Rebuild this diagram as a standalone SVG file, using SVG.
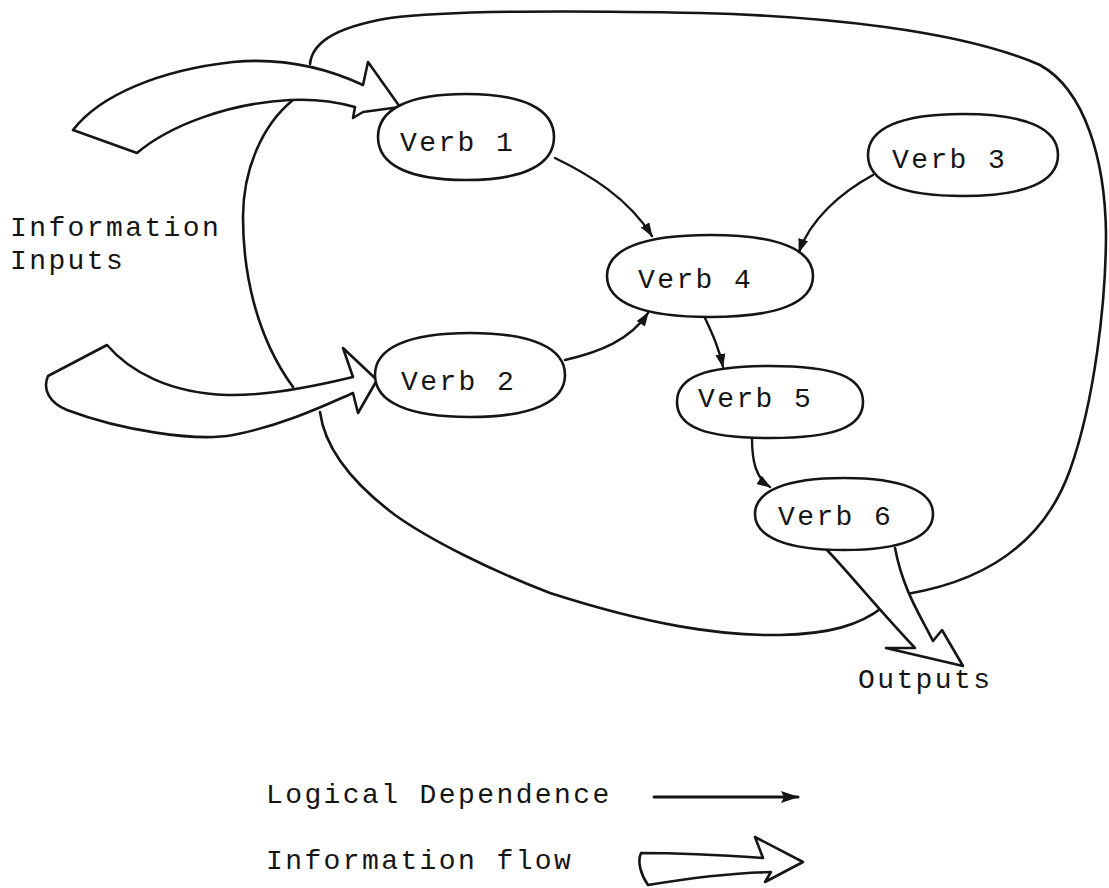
<svg xmlns="http://www.w3.org/2000/svg" width="1109" height="888" viewBox="0 0 1109 888">
  <style>
    .ink { fill: none; stroke: #151515; stroke-width: 2.6; stroke-linecap: round; stroke-linejoin: round; }
    .flow { fill: #ffffff; stroke: #151515; stroke-width: 2.6; stroke-linejoin: round; stroke-linecap: round; }
    .node { fill: #ffffff; stroke: #151515; stroke-width: 2.6; }
    .dep { fill: none; stroke: #151515; stroke-width: 2.4; stroke-linecap: round; marker-end: url(#head); }
    .dep-key { fill: none; stroke: #151515; stroke-width: 3; stroke-linecap: round; marker-end: url(#head-key); }
    text { font-family: "Liberation Mono", "Courier New", monospace; font-size: 28px; letter-spacing: 2.4px; fill: #151515; }
  </style>
  <defs>
    <marker id="head" markerUnits="userSpaceOnUse" markerWidth="14" markerHeight="10" refX="13" refY="5" orient="auto">
      <path d="M0,0 L14,5 L0,10 Z" fill="#151515"/>
    </marker>
    <marker id="head-key" markerUnits="userSpaceOnUse" markerWidth="18" markerHeight="12" refX="17" refY="6" orient="auto">
      <path d="M0,0 L18,6 L0,12 L3,6 Z" fill="#151515"/>
    </marker>
  </defs>
  <rect width="1109" height="888" fill="#ffffff"/>

  <!-- system boundary, broken where the flow arrows cross it -->
  <g id="boundary" class="ink">
    <path d="M310,64 C312,45 330,28 390,18 C450,10 600,11 700,13 C820,16 960,30 1040,65 C1085,90 1105,160 1106,233 C1106,300 1095,400 1070,470 C1045,540 990,580 907,594"/>
    <path d="M883,607 C860,625 830,634 780,635 C720,636 650,625 550,593 C490,570 430,540 395,515 C355,485 325,450 320,412"/>
    <path d="M293,100 C262,125 243,170 243,217 C243,270 255,335 293,387"/>
  </g>

  <!-- information flow arrows -->
  <g id="flows">
    <path id="flow-in-1" class="flow" d="M73,130 C100,95 160,70 233,62 C275,58 320,65 363,85 L368,62 L400,107 L363,112 L353,118 L355,107 C330,100 310,99 290,100 C230,103 170,125 137,153 Z"/>
    <path id="flow-in-2" class="flow" d="M107,345 C130,372 170,393 227,395 C265,396 320,385 353,377 L343,348 L377,380 L358,413 L353,393 C330,403 285,425 233,435 C195,442 120,430 67,410 C50,403 42,390 48,376 Z"/>
    <path id="flow-out" class="flow" d="M825,548 C845,568 870,600 915,648 L886,648 L963,666 L942,630 L933,641 C920,615 903,590 895,548"/>
  </g>

  <g id="verb1">
    <path class="node" d="M378,137 C378,109 409,94 466,94 C523,94 554,109 554,137 C554,165 523,180 466,180 C409,180 378,165 378,137 Z"/>
    <text x="400" y="151">Verb 1</text>
  </g>
  <g id="verb2">
    <path class="node" d="M375,375 C375,348 408,333 470,333 C532,333 565,348 565,375 C565,402 532,417 470,417 C408,417 375,402 375,375 Z"/>
    <text x="401" y="390">Verb 2</text>
  </g>
  <g id="verb3">
    <path class="node" d="M868,155 C868,128 901,114 963,114 C1025,114 1058,128 1058,155 C1058,182 1025,196 963,196 C901,196 868,182 868,155 Z"/>
    <text x="892" y="168">Verb 3</text>
  </g>
  <g id="verb4">
    <path class="node" d="M607,276 C607,249 643,235 710,235 C777,235 813,249 813,276 C813,303 777,317 710,317 C643,317 607,303 607,276 Z"/>
    <text x="638" y="288">Verb 4</text>
  </g>
  <g id="verb5">
    <path class="node" d="M677,402 C677,377 705,366 770,366 C835,366 863,377 863,402 C863,427 835,438 770,438 C705,438 677,427 677,402 Z"/>
    <text x="698" y="407">Verb 5</text>
  </g>
  <g id="verb6">
    <path class="node" d="M755,514 C755,491 786,478 844,478 C902,478 933,491 933,514 C933,537 902,550 844,550 C786,550 755,537 755,514 Z"/>
    <text x="778" y="525">Verb 6</text>
  </g>

  <!-- logical dependence connectors -->
  <g id="connectors">
    <path class="dep" d="M555,158 C590,175 628,198 652,236"/>
    <path class="dep" d="M873,175 C840,193 810,220 799,252"/>
    <path class="dep" d="M565,360 C600,352 630,340 648,313"/>
    <path class="dep" d="M705,318 C712,333 719,348 723,367"/>
    <path class="dep" d="M752,438 C752,462 756,478 770,487"/>
  </g>

  <g id="labels">
    <text x="10" y="236">Information</text>
    <text x="10" y="269">Inputs</text>
    <text x="858" y="688">Outputs</text>
  </g>

  <!-- key -->
  <g id="legend">
    <text x="266" y="803">Logical Dependence</text>
    <path class="dep-key" d="M654,797 L798,797"/>
    <text x="266" y="869">Information flow</text>
    <path class="flow" d="M641,853 C680,853 720,855 763,858 L755,837 L803,862 L765,882 L771,872 C730,873 690,878 648,885 C641,875 637,862 641,853 Z"/>
  </g>
</svg>
